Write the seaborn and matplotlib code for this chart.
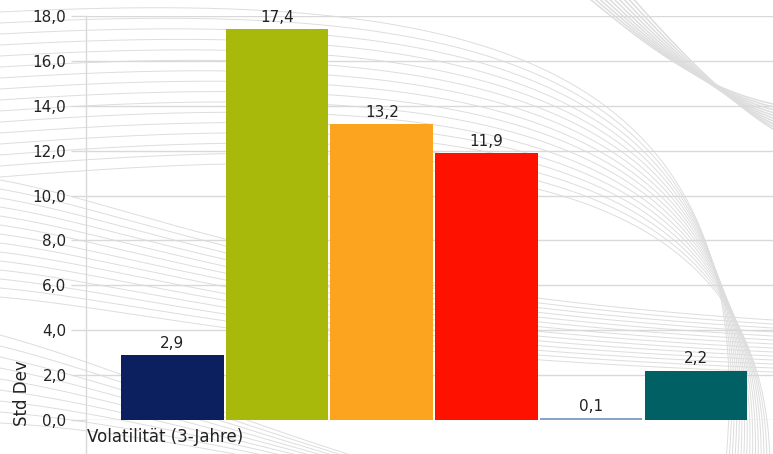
import numpy as np
import pandas as pd
import matplotlib
matplotlib.use("Agg")
import matplotlib.pyplot as plt
from matplotlib.lines import Line2D
import seaborn as sns

# Chart data
group_label = "Volatilität (3-Jahre)"
series = ["Fonds", "Index A", "Index B", "Index C", "Index D", "Index E"]
values = [2.9, 17.4, 13.2, 11.9, 0.1, 2.2]
colors = ["#0c1f5e", "#a8b90b", "#fca31f", "#ff1100", "#8aa2c6", "#006064"]
y_ticks = [0, 2, 4, 6, 8, 10, 12, 14, 16, 18]
y_tick_labels = ["0,0", "2,0", "4,0", "6,0", "8,0", "10,0", "12,0", "14,0", "16,0", "18,0"]
y_title = "Std Dev"

df = pd.DataFrame({"series": series, "value": values})

sns.set_theme(style="white")
plt.rcParams["font.family"] = ["DejaVu Sans"]

W, H = 773, 454
fig = plt.figure(figsize=(W / 100, H / 100), dpi=100)
fig.patch.set_facecolor("white")

# Decorative swirl of thin grey lines behind the plot
bg = fig.add_axes([0, 0, 1, 1], zorder=-5)
bg.set_xlim(0, W)
bg.set_ylim(H, 0)
bg.axis("off")


def bezier(p0, p1, p2, p3, n=150):
    t = np.linspace(0, 1, n)[:, None]
    p0, p1, p2, p3 = map(np.asarray, (p0, p1, p2, p3))
    pts = (1 - t) ** 3 * p0 + 3 * (1 - t) ** 2 * t * p1 + 3 * (1 - t) * t ** 2 * p2 + t ** 3 * p3
    return pts[:, 0], pts[:, 1]


line_col = "#dddddd"
# gentle lines across the top that bend down on the far right
for i in range(16):
    x, y = bezier((0, 12 + i * 11), (450, -10 + i * 10), (770, 40 + i * 8), (725 + i * 3, 470))
    bg.plot(x, y, color=line_col, lw=0.7)
# diagonal bundle leaving the top edge towards the right edge
for i in range(10):
    x, y = bezier((585 + i * 5, -5), (640 + i * 5, 40 + i * 2), (700 + i * 4, 90 + i * 2), (W + 5, 105 + i * 3))
    bg.plot(x, y, color=line_col, lw=1.1)
# lines descending from the left side
for i in range(14):
    x, y = bezier((0, 180 + i * 9), (140, 205 + i * 8), (300, 290 + i * 5), (W, 320 + i * 4))
    bg.plot(x, y, color=line_col, lw=0.7)
for i in range(9):
    x, y = bezier((0, 335 + i * 11), (110, 365 + i * 8), (230, 420 + i * 4), (400, 470 + i * 2))
    bg.plot(x, y, color=line_col, lw=0.7)

# Main bar axes
left, bottom, top = 86 / W, (H - 420) / H, (H - 16) / H
ax = fig.add_axes([left, bottom, 1 - left, top - bottom])
ax.set_facecolor("none")

sns.barplot(data=df, x="series", y="value", hue="series", palette=colors,
            order=series, hue_order=series, dodge=False, legend=False,
            width=0.98, saturation=1, ax=ax, zorder=3, edgecolor="none")

ax.set_xlim(-0.825, 5.737)
ax.set_ylim(0, 18)
ax.set_yticks(y_ticks)
ax.set_yticklabels(y_tick_labels)
ax.set_xticks([])
ax.set_xlabel("")
ax.set_ylabel("")
ax.yaxis.grid(True, color="#d9d9d9", lw=1)
ax.set_axisbelow(True)
ax.tick_params(axis="y", length=11, width=1, color="#d9d9d9", pad=3,
               labelsize=11, labelcolor="#222222", left=True)
for s in ["top", "right", "bottom"]:
    ax.spines[s].set_visible(False)
ax.spines["left"].set_color("#d9d9d9")
ax.spines["left"].set_linewidth(1)

# value labels above the bars
for i, v in enumerate(values):
    ax.annotate(f"{v:.1f}".replace(".", ","), (i, v), xytext=(0, 3),
                textcoords="offset points", ha="center", va="bottom",
                fontsize=11, color="#222222", zorder=4)

# axis line continues below the plot area
fig.add_artist(Line2D([left, left], [0, bottom], transform=fig.transFigure,
                      color="#d9d9d9", lw=1))

fig.text(87 / W, 1 - 437 / H, group_label, ha="left", va="center",
         fontsize=12, color="#222222")
fig.text(22 / W, 1 - 426 / H, y_title, ha="center", va="bottom",
         rotation=90, fontsize=12, color="#222222")

fig.savefig("out.png", dpi=100, facecolor="white")
